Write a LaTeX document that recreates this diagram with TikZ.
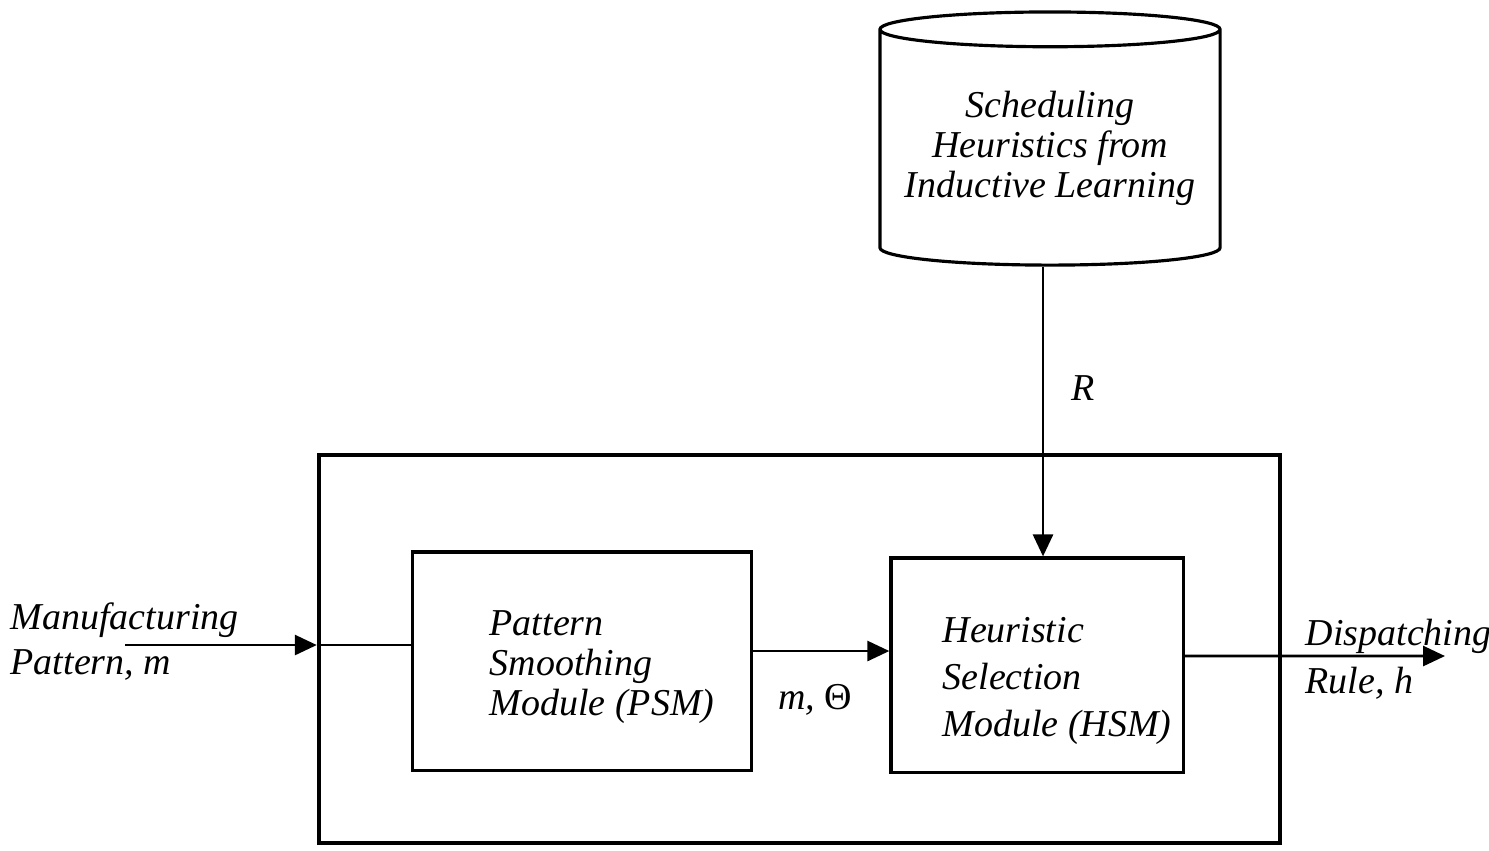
\documentclass[tikz,border=0pt]{standalone}
\usepackage{fontspec}
\setmainfont{Liberation Serif}
\usetikzlibrary{shapes.geometric,arrows.meta,positioning}
\tikzset{
  box/.style={draw,line width=0.9pt},
  lbl/.style={font=\fontsize{10.8}{#1}\selectfont\itshape,align=left,inner sep=0pt},
  lbl/.default=12.8,
  arr/.style={line width=0.8pt,-{Triangle[length=2.2mm,width=2mm]}},
}
\begin{document}
\begin{tikzpicture}[x={0.01cm},y={-0.01cm}]
\useasboundingbox (0,0) rectangle (1489,850);
% boxes
\node[box,line width=1.1pt,minimum width=9.61cm,minimum height=3.88cm] (sys) at (799.5,649) {};
\node[box,minimum width=3.38cm,minimum height=2.18cm] (psm) at (582,661) {};
\node[box,minimum width=2.92cm,minimum height=2.14cm] (hsm) at (1037,665) {};
\node[box,cylinder,shape border rotate=90,aspect=0.12,minimum width=3.4cm,minimum height=2.53cm,lbl=11.4,align=center] (heur) at (1050,148) {Scheduling\\Heuristics from\\Inductive Learning};
% texts
\node[lbl=11.4] (psmtxt) at ([xshift=2mm,yshift=-.6mm]psm.center) {Pattern\\Smoothing\\Module (PSM)};
\node[lbl=13.3] (hsmtxt) at ([xshift=2mm,yshift=-1.6mm]hsm.center) {Heuristic\\Selection\\Module (HSM)};
\node[lbl,anchor=west] (mfgtxt) at (10,642) {Manufacturing\\Pattern, m};
\node[lbl=13.6,anchor=west] (disptxt) at (1305,659) {Dispatching\\Rule, h};
\node[lbl] (mtheta) at (815,700) {m, {\upshape Θ}};
% connectors
\coordinate (mfg) at (125,645);
\coordinate (out) at (1445,656);
\draw[arr] (mfg) -- (mfg -| sys.west);
\draw[line width=0.8pt] (mfg -| sys.west) -- (mfg -| psm.west);
\draw[arr] ([yshift=1mm]psm.east) -- ([yshift=1mm]psm.east -| hsm.west);
\draw[arr] ([yshift=.9mm]hsm.east) -- (out);
\draw[arr] ([xshift=-.7mm]heur.south) -- ([xshift=-.7mm]heur.south |- hsm.north) node[lbl,pos=0.42,right=2.7mm]{R};
\end{tikzpicture}
\end{document}
